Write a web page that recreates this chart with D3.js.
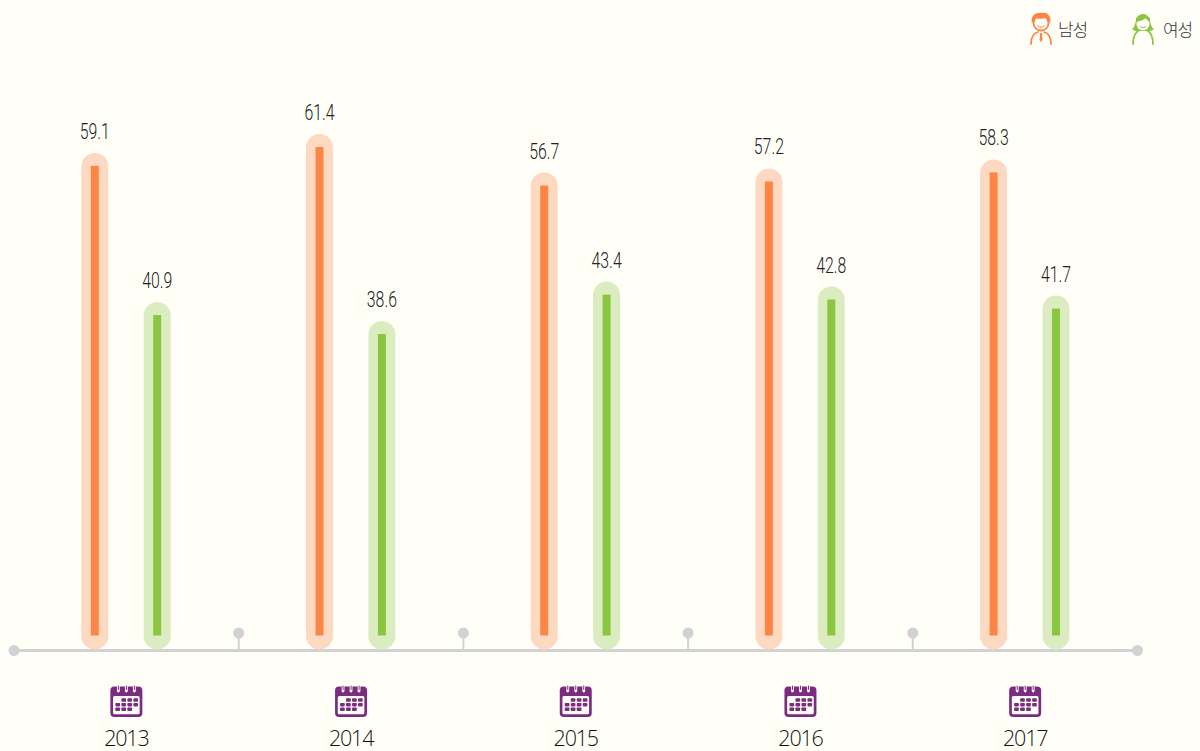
<!DOCTYPE html>
<html>
<head>
<meta charset="utf-8">
<script src="https://d3js.org/d3.v7.min.js"></script>
<style>
  html, body { margin: 0; padding: 0; background: #fffff8; }
  svg { display: block; }
</style>
</head>
<body>
<script>
const years = ['2013', '2014', '2015', '2016', '2017'];
const seriesNames = ['남성', '여성'];
const maleValues = [59.1, 61.4, 56.7, 57.2, 58.3];
const femaleValues = [40.9, 38.6, 43.4, 42.8, 41.7];

const width = 1200;
const height = 751;
const baseline = 650.5;
const colors = { '남성': '#fd8644', '여성': '#8ac63f' };
const paleColors = { '남성': '#fdd9c1', '여성': '#dcecc1' };
const axisColor = '#d2d2d6';
const purple = '#7b2c80';
const bg = '#fffff8';

const svg = d3.select('body').append('svg')
  .attr('width', width)
  .attr('height', height)
  .attr('viewBox', [0, 0, width, height]);

const x = d3.scaleBand().domain(years).range([14, 1137.5]);
const xInner = d3.scalePoint().domain(seriesNames).range([80.8, 143.2]);
const y = d3.scaleLinear().domain([0, 61.4]).range([baseline, baseline - 61.4 * 8.2]);

// axis line and dots
svg.append('line')
  .attr('x1', x.range()[0]).attr('x2', x.range()[1])
  .attr('y1', baseline).attr('y2', baseline)
  .attr('stroke', axisColor).attr('stroke-width', 3);

svg.selectAll('.end-dot')
  .data(x.range())
  .join('circle')
  .attr('class', 'end-dot')
  .attr('cx', d => d).attr('cy', baseline).attr('r', 5.5)
  .attr('fill', axisColor);

const seps = svg.selectAll('.sep')
  .data(years.slice(1))
  .join('g')
  .attr('class', 'sep')
  .attr('transform', d => `translate(${x(d)},0)`);
seps.append('line')
  .attr('y1', 633).attr('y2', baseline)
  .attr('stroke', axisColor).attr('stroke-width', 2);
seps.append('circle')
  .attr('cy', 633).attr('r', 5.5)
  .attr('fill', axisColor);

// bars
const rows = seriesNames.flatMap((name, i) => {
  const vals = i === 0 ? maleValues : femaleValues;
  return years.map((year, j) => ({ name, year, value: vals[j] }));
});

const bars = svg.selectAll('.bar')
  .data(rows)
  .join('g')
  .attr('class', 'bar')
  .attr('transform', d => `translate(${x(d.year) + xInner(d.name)},0)`);

bars.append('rect')
  .attr('x', -13.5).attr('width', 27)
  .attr('y', d => y(d.value) - 13)
  .attr('height', d => baseline - 1 - y(d.value) + 13)
  .attr('rx', 13.5)
  .attr('fill', d => paleColors[d.name]);

bars.append('rect')
  .attr('x', -4).attr('width', 8)
  .attr('y', d => y(d.value))
  .attr('height', d => baseline - 15 - y(d.value))
  .attr('fill', d => colors[d.name]);

// no condensed font here, so squeeze the labels sideways
bars.append('text')
  .attr('transform', d => `translate(0,${y(d.value) - 27}) scale(0.72,1)`)
  .attr('text-anchor', 'middle')
  .attr('font-family', 'Roboto, "Liberation Sans", sans-serif')
  .attr('font-size', 22)
  .attr('font-weight', 300)
  .attr('fill', '#222')
  .text(d => d.value.toFixed(1));

// calendar icon + year
const yearGroups = svg.selectAll('.year')
  .data(years)
  .join('g')
  .attr('class', 'year')
  .attr('transform', d => `translate(${x(d) + x.bandwidth() / 2},0)`);

function drawCalendar(g) {
  g.append('rect')
    .attr('x', -16).attr('y', 686.5).attr('width', 32).attr('height', 30.5).attr('rx', 4)
    .attr('fill', purple);
  g.append('rect')
    .attr('x', -13.3).attr('y', 696).attr('width', 26.6).attr('height', 18.3).attr('rx', 1.5)
    .attr('fill', bg);
  [-8, 0, 8].forEach(dx => {
    g.append('line')
      .attr('x1', dx).attr('x2', dx).attr('y1', 686).attr('y2', 691)
      .attr('stroke', bg).attr('stroke-width', 2.8).attr('stroke-linecap', 'round');
    g.append('line')
      .attr('x1', dx).attr('x2', dx).attr('y1', 686).attr('y2', 689.5)
      .attr('stroke', purple).attr('stroke-width', 1).attr('stroke-linecap', 'round');
  });
  // day cells: [row, first col, last col]
  [[0, 1, 3], [1, 0, 3], [2, 0, 2]].forEach(([r, a, b]) => {
    d3.range(a, b + 1).forEach(c => {
      g.append('rect')
        .attr('x', -11 + c * 6).attr('y', 698.3 + r * 4.6)
        .attr('width', 4.7).attr('height', 3.5)
        .attr('rx', 0.8)
        .attr('fill', purple);
    });
  });
}
yearGroups.call(drawCalendar);

yearGroups.append('text')
  .attr('y', 745.5)
  .attr('text-anchor', 'middle')
  .attr('font-family', '"Open Sans", "Noto Sans", sans-serif')
  .attr('font-size', 21.5)
  .attr('font-weight', 300)
  .attr('letter-spacing', -1.2)
  .attr('fill', '#111')
  .text(d => d);

// legend
const legendX = d3.scaleOrdinal().domain(seriesNames).range([1041, 1143]);
const legend = svg.selectAll('.legend')
  .data(seriesNames)
  .join('g')
  .attr('class', 'legend')
  .attr('transform', d => `translate(${legendX(d)},0)`);

legend.append('text')
  .attr('x', d => d === seriesNames[0] ? 17 : 20)
  .attr('y', 36)
  .attr('font-family', '"Noto Sans CJK KR", sans-serif')
  .attr('font-size', 17)
  .attr('font-weight', 300)
  .attr('letter-spacing', -1.2)
  .attr('fill', '#333')
  .text(d => d);

// person icons
const man = legend.filter(d => d === seriesNames[0]);
const c0 = colors[seriesNames[0]];
man.append('circle').attr('cy', 23).attr('r', 7.5)
  .attr('fill', bg).attr('stroke', c0).attr('stroke-width', 1.8);
man.append('path').attr('d', 'M-9,24 C-11,15 -5,12 1,13 C7,12 11,17 9,24 C8,20 7,19 6,18 C2,19 -4,19 -6,18 C-7,20 -8,21 -9,24 Z').attr('fill', c0);
man.append('path').attr('d', 'M-10,44 C-10,36 -7,33 -3,32 M10,44 C10,36 7,33 3,32')
  .attr('fill', 'none').attr('stroke', c0).attr('stroke-width', 1.8).attr('stroke-linecap', 'round');
man.append('path').attr('d', 'M-1.3,33 L1.3,33 L1,36 L1.6,40 L0,42 L-1.6,40 L-1,36 Z').attr('fill', c0);
man.append('path').attr('d', 'M-3.5,25.5 Q0,29 3.5,25.5')
  .attr('fill', 'none').attr('stroke', c0).attr('stroke-width', 1);

const woman = legend.filter(d => d === seriesNames[1]);
const c1 = colors[seriesNames[1]];
woman.append('path').attr('d', 'M-11,29 C-6,27 -9,14 0,14 C9,14 6,27 11,29 C8,32 4,31 2,31 L-2,31 C-4,31 -8,32 -11,29 Z')
  .attr('fill', c1);
woman.append('ellipse').attr('cy', 24).attr('rx', 6.5).attr('ry', 6.5).attr('fill', bg);
woman.append('path').attr('d', 'M-7,22 C-3,21 1,20 3,18 C4,20 5,21 7,22 L7,18 L0,15 L-7,18 Z').attr('fill', c1);
woman.append('path').attr('d', 'M-10,44 C-10,37 -8,33 -5,31 M10,44 C10,37 8,33 5,31')
  .attr('fill', 'none').attr('stroke', c1).attr('stroke-width', 1.8).attr('stroke-linecap', 'round');
woman.append('path').attr('d', 'M-3,26.5 Q0,29 3,26.5')
  .attr('fill', 'none').attr('stroke', c1).attr('stroke-width', 1);
</script>
</body>
</html>
